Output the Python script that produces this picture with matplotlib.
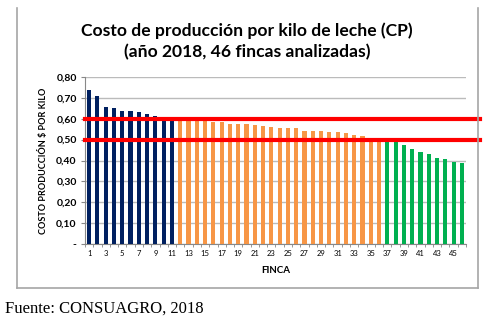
import matplotlib
matplotlib.use('Agg')
import matplotlib.pyplot as plt
from matplotlib.lines import Line2D

# costo por finca (46 fincas, ordenado de mayor a menor)
costo_alto = [0.74, 0.71, 0.655, 0.65, 0.637, 0.635, 0.63, 0.624, 0.613, 0.60, 0.594]
costo_medio = [0.594, 0.593, 0.59, 0.588, 0.585, 0.585, 0.575, 0.573, 0.573, 0.568,
               0.564, 0.56, 0.557, 0.555, 0.555, 0.541, 0.541, 0.539, 0.535, 0.535,
               0.53, 0.521, 0.517, 0.50, 0.50]
costo_bajo = [0.49, 0.49, 0.475, 0.455, 0.44, 0.433, 0.412, 0.407, 0.395, 0.39]
umbrales = [0.60, 0.50]
y_ticks = [0.0, 0.1, 0.2, 0.3, 0.4, 0.5, 0.6, 0.7, 0.8]
y_labels = ['-', '0,10', '0,20', '0,30', '0,40', '0,50', '0,60', '0,70', '0,80']

W, H = 489, 327
fig = plt.figure(figsize=(W / 100, H / 100), dpi=100)
ax = fig.add_axes([85 / W, 1 - 244 / H, (466 - 85) / W, (244 - 77) / H])

grupos = [(costo_alto, '#002060'), (costo_medio, '#F79646'), (costo_bajo, '#00B050')]
start = 1
for vals, col in grupos:
    xs = list(range(start, start + len(vals)))
    ax.bar(xs, vals, width=0.5, color=col, zorder=3)
    start += len(vals)
n = start - 1

ax.set_xlim(0.5, n + 0.5)
ax.set_ylim(0, 0.8)
ax.set_yticks(y_ticks)
ax.set_yticklabels(y_labels, fontsize=7.5, fontweight='bold', family='Lato')
ax.set_xticks(range(1, n + 1, 2))
ax.set_xticklabels([str(i) for i in range(1, n + 1, 2)], fontsize=5.5, family='Lato')
ax.set_xticks([i + 0.5 for i in range(0, n + 1)], minor=True)
ax.tick_params(axis='x', which='major', length=0, pad=4)
ax.tick_params(axis='x', which='minor', length=2.5, color='#888888')
ax.tick_params(axis='y', length=3, color='#888888', pad=3)
ax.grid(axis='y', color='#BBBBBB', linewidth=1, zorder=0)
for s in ['top', 'right']:
    ax.spines[s].set_visible(False)
for s in ['left', 'bottom']:
    ax.spines[s].set_color('#888888')

xmax = (480 - 85) / (466 - 85)
for u in umbrales:
    ax.axhline(u, xmin=0, xmax=xmax, color='#FF0000', linewidth=3, clip_on=False, zorder=5)

ax.set_ylabel('COSTO PRODUCCIÓN $ POR KILO', fontsize=6.5, fontweight='bold', family='Lato', labelpad=6)
ax.set_xlabel('FINCA', fontsize=7, fontweight='bold', family='Lato', labelpad=7)

fig.text(247 / W, 1 - 31 / H, 'Costo de producción por kilo de leche (CP)', ha='center', va='center',
         fontsize=12.6, fontweight='bold', family='Lato')
fig.text(247 / W, 1 - 52 / H, '(año 2018, 46 fincas analizadas)', ha='center', va='center',
         fontsize=12.6, fontweight='bold', family='Lato')

# marco del grafico
fc = '#A6A6A6'
fig.add_artist(Line2D([17 / W, 17 / W], [1 - 8 / H, 1 - 288 / H], color=fc, lw=1.2))
fig.add_artist(Line2D([478 / W, 478 / W], [1 - 8 / H, 1 - 288 / H], color=fc, lw=1.2))
fig.add_artist(Line2D([17 / W, 478 / W], [1 - 288 / H, 1 - 288 / H], color=fc, lw=1.2))

fig.text(5 / W, 1 - 309 / H, 'Fuente: CONSUAGRO, 2018', ha='left', va='center',
         fontsize=12, family='Liberation Serif')

fig.savefig('out.png', dpi=100)
